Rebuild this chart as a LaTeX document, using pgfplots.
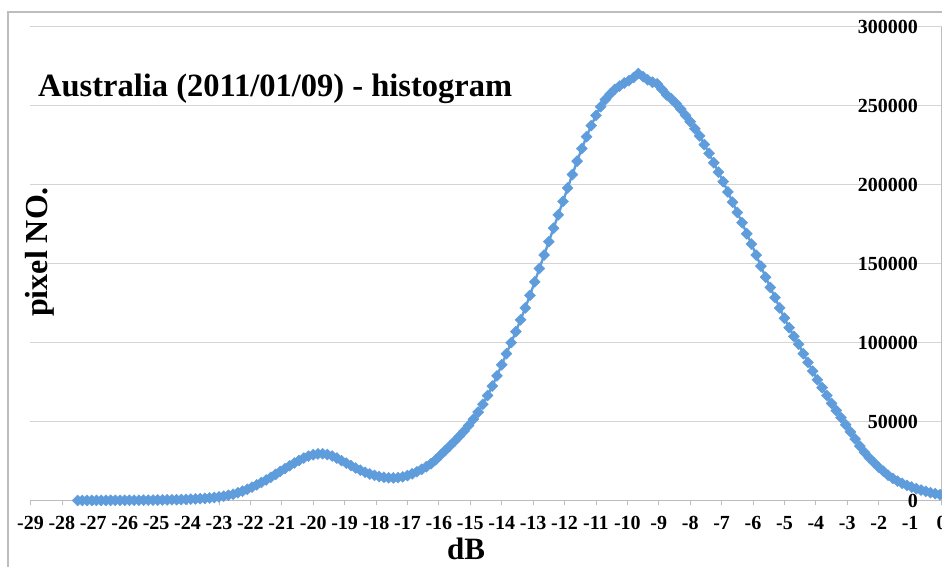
\documentclass[border=0pt]{standalone}
\usepackage{fontspec}
\setmainfont{Liberation Serif}
\usepackage{pgfplots}
\pgfplotsset{compat=1.18}
\usepackage{pgfplotstable}

\definecolor{serieblue}{HTML}{5E9CDB}
\definecolor{gridgray}{HTML}{D4D4D4}
\definecolor{framegray}{HTML}{BDBDBD}

% Backscatter histogram: pixel count per dB bin
\pgfplotstableread{
db val
-27.50 0
-27.35 10
-27.20 20
-27.05 30
-26.90 40
-26.75 50
-26.60 60
-26.45 80
-26.30 90
-26.15 110
-26.00 130
-25.85 150
-25.70 170
-25.55 190
-25.40 220
-25.25 250
-25.10 280
-24.95 310
-24.80 350
-24.65 400
-24.50 450
-24.35 520
-24.20 600
-24.05 750
-23.90 870
-23.75 1000
-23.60 1150
-23.45 1350
-23.30 1600
-23.15 1900
-23.00 2250
-22.85 2700
-22.70 3300
-22.55 4000
-22.40 4900
-22.25 5900
-22.10 7100
-21.95 8500
-21.80 9900
-21.65 11400
-21.50 13000
-21.35 14700
-21.20 16500
-21.05 18400
-20.90 20200
-20.75 22000
-20.60 23800
-20.45 25400
-20.30 26900
-20.15 28100
-20.00 29000
-19.85 29500
-19.70 29600
-19.55 29100
-19.40 28200
-19.25 26900
-19.10 25300
-18.95 23700
-18.80 22100
-18.65 20600
-18.50 19200
-18.35 17900
-18.20 16800
-18.05 15900
-17.90 15200
-17.75 14700
-17.60 14400
-17.45 14300
-17.30 14500
-17.15 15000
-17.00 15800
-16.85 16900
-16.70 18200
-16.55 19700
-16.40 21400
-16.25 23300
-16.10 25800
-15.95 28700
-15.80 31600
-15.65 34500
-15.50 37500
-15.35 40700
-15.20 44000
-15.05 47600
-14.90 51500
-14.75 56000
-14.60 61000
-14.45 66500
-14.30 72500
-14.15 79000
-14.00 86000
-13.85 93000
-13.70 100000
-13.55 107000
-13.40 114500
-13.25 122000
-13.10 130000
-12.95 138500
-12.80 147000
-12.65 155500
-12.50 164000
-12.35 172500
-12.20 181000
-12.05 189500
-11.90 198000
-11.75 206500
-11.60 215000
-11.45 223000
-11.30 230500
-11.15 237500
-11.00 244000
-10.85 249500
-10.70 254000
-10.55 257500
-10.40 260500
-10.25 262500
-10.10 264500
-9.95 266000
-9.80 268000
-9.65 270500
-9.50 268500
-9.35 266500
-9.20 265000
-9.05 264000
-8.90 260500
-8.75 257000
-8.60 254500
-8.45 251500
-8.30 248000
-8.15 244000
-8.00 240000
-7.85 235500
-7.70 231000
-7.55 225500
-7.40 220000
-7.25 214000
-7.10 208000
-6.95 202000
-6.80 195500
-6.65 189000
-6.50 182500
-6.35 176000
-6.20 169000
-6.05 162500
-5.90 155500
-5.75 148500
-5.60 141500
-5.45 135000
-5.30 128500
-5.15 122000
-5.00 115500
-4.85 109500
-4.70 104000
-4.55 99000
-4.40 93000
-4.25 87500
-4.10 82000
-3.95 76500
-3.80 71500
-3.65 66500
-3.50 61500
-3.35 57000
-3.20 52500
-3.05 48000
-2.90 43500
-2.75 39000
-2.60 34500
-2.45 30500
-2.30 27000
-2.15 24000
-2.00 21000
-1.85 18500
-1.70 16000
-1.55 14000
-1.40 12300
-1.25 10900
-1.10 9600
-0.95 8500
-0.80 7500
-0.65 6600
-0.50 5800
-0.35 5000
-0.20 4300
-0.05 3700
0.10 3200
}\histdata

\begin{document}
\begin{tikzpicture}[x=1pt,y=1pt]
\useasboundingbox (0,0) rectangle (942,567);
% chart frame
\draw[framegray, line width=1.2pt] (8,-5) -- (8,555) -- (950,555);
\begin{axis}[
  at={(30.5pt,66.5pt)}, anchor=south west,
  scale only axis, width=911pt, height=473.5pt,
  xmin=-29, xmax=0, ymin=0, ymax=300000,
  clip=false,
  axis x line*=bottom, axis y line*=right,
  axis line style={framegray, line width=1pt},
  xtick={-29,-28,...,0},
  ytick={0,50000,...,300000},
  minor y tick num=4,
  tick align=outside,
  major tick length=5pt, minor tick length=4pt,
  tick style={framegray, line width=0.8pt},
  ymajorgrids,
  major grid style={gridgray, line width=1pt},
  scaled y ticks=false,
  /pgf/number format/.cd, fixed, set thousands separator={}, assume math mode=true,
  /pgfplots/.cd,
  ticklabel style={font=\bfseries\fontsize{20}{24}\selectfont, text=black},
  xticklabel style={anchor=base, yshift=-24pt},
  yticklabel style={anchor=east, xshift=-25pt},
]
\addplot[serieblue, line width=2.4pt, mark=square*, mark size=3.9pt,
  mark options={rotate=45, solid, fill=serieblue, draw=serieblue, line width=0.4pt}]
  table[x=db, y=val] {\histdata};
\end{axis}
\node[font=\bfseries\fontsize{32.5}{38}\selectfont, anchor=base west, inner sep=0pt]
  at (38,470) {Australia (2011/01/09) - histogram};
\node[font=\bfseries\fontsize{32}{38}\selectfont, rotate=90, anchor=base, inner sep=0pt]
  at (47,315) {pixel NO.};
\node[font=\bfseries\fontsize{31}{36}\selectfont, anchor=base, inner sep=0pt]
  at (466,7) {dB};
\end{tikzpicture}
\end{document}
